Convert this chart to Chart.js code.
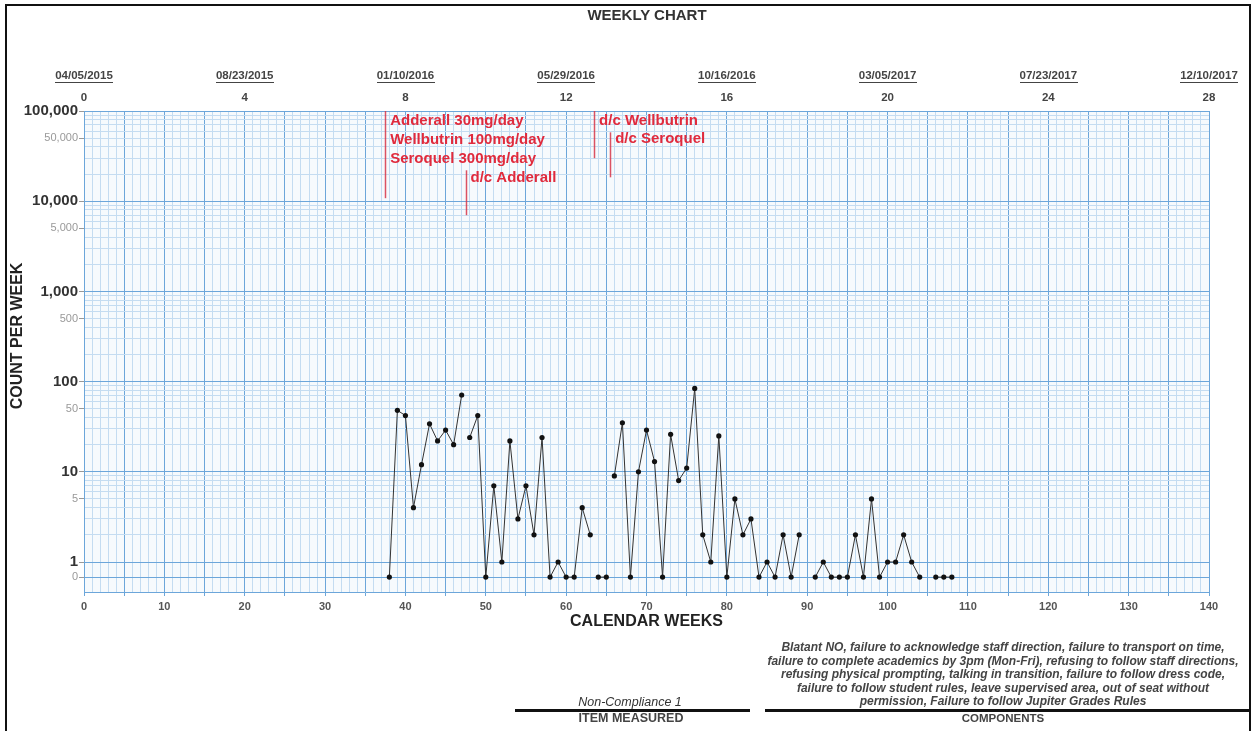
<!DOCTYPE html>
<html>
<head>
<meta charset="utf-8">
<title>Weekly Chart</title>
<script src="https://cdn.jsdelivr.net/npm/chart.js@4.4.1/dist/chart.umd.min.js"></script>
<style>
  html, body { margin: 0; padding: 0; background: #fff; }
  body { width: 1257px; height: 731px; position: relative; overflow: hidden;
         font-family: "Liberation Sans", Arial, sans-serif; color: #333; }
  #chart { position: absolute; left: 0; top: 0; }
  .frame { position: absolute; left: 5px; top: 4px; width: 1242px; height: 800px;
           border: 2px solid #111; pointer-events: none; }
  .title { position: absolute; left: 547px; top: 6px; width: 200px; text-align: center;
           font-weight: bold; font-size: 15px; line-height: 18px; }
  .item { position: absolute; left: 530px; top: 694px; width: 200px; text-align: center;
          font-style: italic; font-size: 12.5px; line-height: 16px; color: #333; }
  .desc { position: absolute; left: 723px; top: 641px; width: 560px; text-align: center;
          font-style: italic; font-weight: bold; font-size: 12px; line-height: 13.5px; color: #444; }
  .rule { position: absolute; top: 709px; height: 0; border-top: 3px solid #111; }
  .cap { position: absolute; top: 711px; width: 200px; text-align: center;
         font-weight: bold; font-size: 11.5px; line-height: 14px; color: #444; }
</style>
</head>
<body>
<canvas id="chart" width="1257" height="731"></canvas>
<div class="frame"></div>
<div class="title">WEEKLY CHART</div>
<div class="item">Non-Compliance 1</div>
<div class="rule" style="left:515px;width:235px"></div>
<div class="cap" style="left:531px;font-size:12.5px">ITEM MEASURED</div>
<div class="desc">Blatant NO, failure to acknowledge staff direction, failure to transport on time,<br>
failure to complete academics by 3pm (Mon-Fri), refusing to follow staff directions,<br>
refusing physical prompting, talking in transition, failure to follow dress code,<br>
failure to follow student rules, leave supervised area, out of seat without<br>
permission, Failure to follow Jupiter Grades Rules</div>
<div class="rule" style="left:765px;width:486px"></div>
<div class="cap" style="left:903px">COMPONENTS</div>
<script>
// calendar weeks and counts per week (null = no data that week)
const weeks = [38, 39, 40, 41, 42, 43, 44, 45, 46, 47, 48, 49, 50, 51, 52, 53, 54, 55, 56, 57,
  58, 59, 60, 61, 62, 63, 64, 65, 66, 67, 68, 69, 70, 71, 72, 73, 74, 75, 76, 77,
  78, 79, 80, 81, 82, 83, 84, 85, 86, 87, 88, 89, 90, 91, 92, 93, 94, 95, 96, 97,
  98, 99, 100, 101, 102, 103, 104, 105, 106, 107, 108]
const counts = [0, 48, 42, 4, 12, 34, 22, 29, 20, 71, 24, 42, 0, 7, 1, 22, 3, 7, 2, 24,
  0, 1, 0, 0, 4, 2, 0, 0, 9, 35, 0, 10, 29, 13, 0, 26, 8, 11, 84, 2,
  1, 25, 0, 5, 2, 3, 0, 1, 0, 2, 0, 2, null, 0, 1, 0, 0, 0, 2, 0,
  5, 0, 1, 1, 2, 1, 0, null, 0, 0, 0]

// phase change lines (week, top count, bottom count)
const phaseWeeks  = [37.5, 47.5, 63.5, 65.5]
const phaseTop    = [100000, 22000, 100000, 58000]
const phaseBottom = [10800, 7000, 30000, 18400]

// phase notes (text, week where it starts, count level)
const noteText  = ["Adderall 30mg/day", "Wellbutrin 100mg/day", "Seroquel 300mg/day",
                   "d/c Adderall", "d/c Wellbutrin", "d/c Seroquel"]
const noteWeek  = [38.1, 38.1, 38.1, 48.1, 64.1, 66.1]
const noteCount = [77500, 48200, 29700, 18300, 76900, 49700]

// top calendar axis
const topDates = ["04/05/2015", "08/23/2015", "01/10/2016", "05/29/2016",
                  "10/16/2016", "03/05/2017", "07/23/2017", "12/10/2017"]
const topNums  = ["0", "4", "8", "12", "16", "20", "24", "28"]

const ZERO_ROW = 0.68   // zero counts are charted on their own row under "1"
const Y_MIN = 0.465
const Y_MAX = 100000

const FONT = '"Liberation Sans", Arial, sans-serif'
const MAJOR = "#6ca6da"
const MINOR = "#c4dcf1"
const RED   = "#e02a3c"

const isDecade = v => Math.abs(Math.log10(v) - Math.round(Math.log10(v))) < 1e-9
const isFive   = v => isDecade(v / 5)

const crossesPhase = (a, b) => phaseWeeks.some(w => w > a && w < b)

// ── plugins ─────────────────────────────────────────────
const paperPlugin = {
  id: "paper",
  beforeDraw(chart) {
    const { ctx, chartArea: a } = chart
    ctx.save()
    ctx.fillStyle = "#f6fafd"
    ctx.fillRect(a.left, a.top, a.right - a.left, a.bottom - a.top)
    ctx.restore()
  }
}

const phasePlugin = {
  id: "phases",
  afterDatasetsDraw(chart) {
    const { ctx, scales: { x, y } } = chart
    ctx.save()
    ctx.strokeStyle = "rgba(214,52,72,0.85)"
    ctx.lineWidth = 1.5
    phaseWeeks.forEach((w, i) => {
      const px = Math.round(x.getPixelForValue(w)) + 0.5
      ctx.beginPath()
      ctx.moveTo(px, y.getPixelForValue(phaseTop[i]))
      ctx.lineTo(px, y.getPixelForValue(phaseBottom[i]))
      ctx.stroke()
    })
    ctx.font = "bold 15px " + FONT
    ctx.fillStyle = RED
    ctx.textBaseline = "middle"
    noteText.forEach((t, i) => {
      ctx.fillText(t, x.getPixelForValue(noteWeek[i]), y.getPixelForValue(noteCount[i]))
    })
    ctx.restore()
  }
}

const underlinePlugin = {
  id: "dateUnderline",
  afterDraw(chart) {
    const s = chart.scales.x2
    const ctx = chart.ctx
    const f = s.options.ticks.font
    const lh = f.size * f.lineHeight
    const yLine = s.bottom - s.options.ticks.padding - 1.5 * lh + 6
    ctx.save()
    ctx.font = "bold " + f.size + "px " + FONT
    ctx.fillStyle = "#444"
    s.ticks.forEach(t => {
      const label = topDates[Math.round(t.value / 20)]
      const w = ctx.measureText(label).width
      const px = s.getPixelForValue(t.value)
      ctx.fillRect(Math.round(px - w / 2), Math.round(yLine), Math.round(w), 1)
    })
    ctx.restore()
  }
}

// ── chart ───────────────────────────────────────────────
new Chart(document.getElementById("chart"), {
  type: "line",
  data: {
    datasets: [{
      data: weeks.map((w, i) => ({
        x: w,
        y: counts[i] === null ? null : (counts[i] === 0 ? ZERO_ROW : counts[i])
      })),
      borderColor: "#333",
      borderWidth: 1,
      pointRadius: 2.6,
      pointBackgroundColor: "#111",
      pointBorderWidth: 0,
      tension: 0,
      spanGaps: false,
      segment: {
        borderColor: c => crossesPhase(c.p0.parsed.x, c.p1.parsed.x) ? "rgba(0,0,0,0)" : "#333"
      }
    }]
  },
  options: {
    responsive: false,
    animation: false,
    events: [],
    layout: { padding: { left: 8, right: 48, top: 30, bottom: 99 } },
    plugins: {
      legend: { display: false },
      tooltip: { enabled: false }
    },
    scales: {
      x: {
        type: "linear",
        position: "bottom",
        min: 0,
        max: 140,
        afterFit: s => { s.height = 40 },
        border: { color: MAJOR },
        grid: {
          color: c => c.tick.value % 5 === 0 ? MAJOR : MINOR,
          tickColor: c => c.tick.value % 5 === 0 ? MAJOR : "rgba(0,0,0,0)",
          tickLength: 4
        },
        ticks: {
          stepSize: 1,
          autoSkip: false,
          maxRotation: 0,
          padding: 4,
          color: "#555",
          font: { family: FONT, size: 11, weight: "bold" },
          callback: v => v % 10 === 0 ? String(v) : ""
        },
        title: {
          display: true,
          text: "CALENDAR WEEKS",
          color: "#222",
          font: { family: FONT, size: 16, weight: "bold" },
          padding: { top: 0, bottom: 1 }
        }
      },
      x2: {
        type: "linear",
        position: "top",
        min: 0,
        max: 140,
        afterFit: s => { s.height = 81 },
        border: { color: MAJOR },
        grid: { drawOnChartArea: false, drawTicks: false },
        ticks: {
          stepSize: 20,
          autoSkip: false,
          maxRotation: 0,
          padding: 2,
          color: "#444",
          font: { family: FONT, size: 11.5, weight: "bold", lineHeight: 1.9 },
          callback: v => [topDates[Math.round(v / 20)], topNums[Math.round(v / 20)]]
        }
      },
      y: {
        type: "logarithmic",
        min: Y_MIN,
        max: Y_MAX,
        afterFit: s => { s.width = 76 },
        afterBuildTicks: s => {
          const vals = [ZERO_ROW]
          for (let p = 0; p < 5; p++) {
            for (let m = 1; m < 10; m++) vals.push(m * Math.pow(10, p))
          }
          vals.push(Y_MAX)
          s.ticks = vals.map(v => ({ value: v }))
        },
        border: { color: MAJOR },
        grid: {
          color: c => (c.tick.value === ZERO_ROW || isDecade(c.tick.value)) ? MAJOR : MINOR,
          tickColor: c => (c.tick.value === ZERO_ROW || isDecade(c.tick.value) || isFive(c.tick.value))
            ? "#999" : "rgba(0,0,0,0)",
          tickLength: 5
        },
        ticks: {
          autoSkip: false,
          padding: 1,
          color: c => isDecade(c.tick.value) && c.tick.value !== ZERO_ROW ? "#333" : "#999",
          font: c => (c.tick.value !== ZERO_ROW && isDecade(c.tick.value))
            ? { family: FONT, size: 15, weight: "bold" }
            : { family: FONT, size: 11 },
          callback: v => {
            if (v === ZERO_ROW) return "0"
            if (isDecade(v) || isFive(v)) return v.toLocaleString("en-US")
            return ""
          }
        },
        title: {
          display: true,
          text: "       COUNT PER WEEK",
          color: "#222",
          font: { family: FONT, size: 16, weight: "bold" },
          padding: { top: 0, bottom: 0 }
        }
      }
    }
  },
  plugins: [paperPlugin, phasePlugin, underlinePlugin]
})
</script>
</body>
</html>
